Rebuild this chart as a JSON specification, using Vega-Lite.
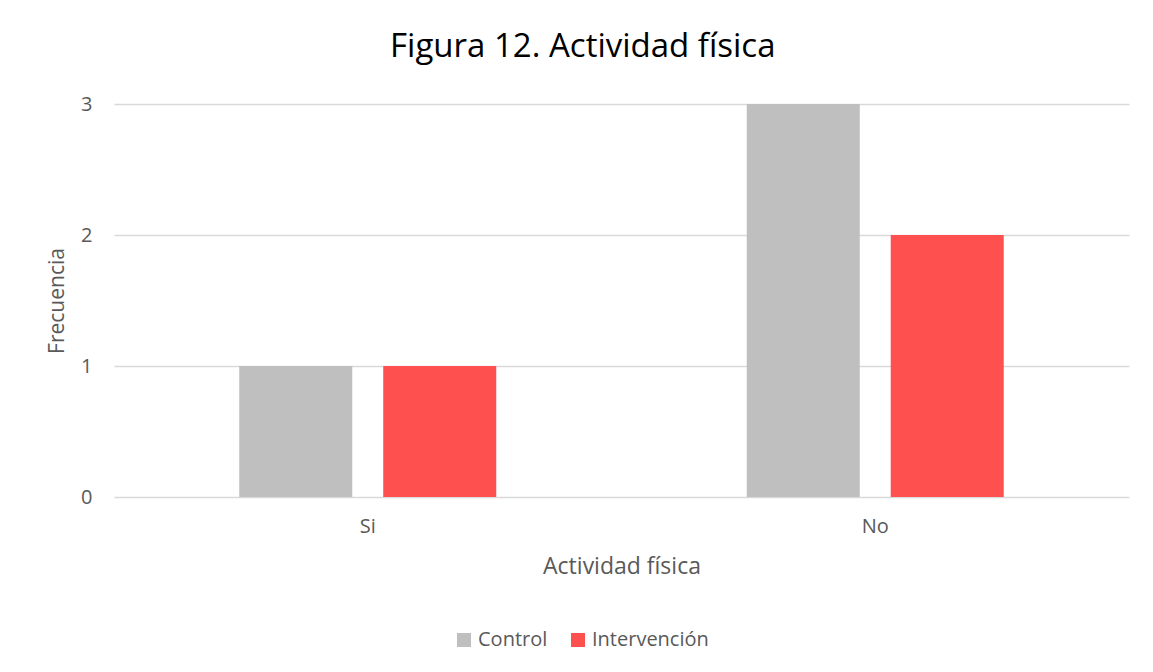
{
  "$schema": "https://vega.github.io/schema/vega-lite/v6.json",
  "autosize": {"type": "none"},
  "width": 1015,
  "height": 393,
  "padding": {"left": 114, "top": 104, "right": 24, "bottom": 175},
  "background": "white",
  "title": {
    "text": "Figura 12. Actividad física",
    "font": "Open Sans",
    "fontSize": 33,
    "fontWeight": "normal",
    "color": "#000000",
    "anchor": "middle",
    "frame": "bounds",
    "dx": -5,
    "offset": 30
  },
  "data": {
    "values": [
      {"actividad": "Si", "grupo": "Control", "frecuencia": 1},
      {"actividad": "Si", "grupo": "Intervención", "frecuencia": 1},
      {"actividad": "No", "grupo": "Control", "frecuencia": 3},
      {"actividad": "No", "grupo": "Intervención", "frecuencia": 2}
    ]
  },
  "mark": {"type": "bar"},
  "encoding": {
    "x": {
      "field": "actividad",
      "type": "nominal",
      "sort": ["Si", "No"],
      "scale": {"paddingInner": 0, "paddingOuter": 0},
      "axis": {
        "title": "Actividad física",
        "labelAngle": 0,
        "ticks": false,
        "domain": false,
        "labelFont": "Open Sans",
        "labelFontSize": 20,
        "labelColor": "#595959",
        "labelPadding": 19,
        "titleFont": "Open Sans",
        "titleFontSize": 23,
        "titleFontWeight": "normal",
        "titleColor": "#595959",
        "titlePadding": 19
      }
    },
    "xOffset": {
      "field": "grupo",
      "type": "nominal",
      "sort": ["Control", "Intervención"],
      "scale": {"paddingInner": 0.215, "paddingOuter": 0.87}
    },
    "y": {
      "field": "frecuencia",
      "type": "quantitative",
      "scale": {"domain": [0, 3], "nice": false},
      "axis": {
        "title": "Frecuencia",
        "values": [0, 1, 2, 3],
        "format": "d",
        "ticks": false,
        "domain": false,
        "grid": true,
        "gridColor": "#D9D9D9",
        "gridWidth": 1.3,
        "labelFont": "Open Sans",
        "labelFontSize": 20,
        "labelColor": "#595959",
        "labelPadding": 22,
        "titleFont": "Open Sans",
        "titleFontSize": 21,
        "titleFontWeight": "normal",
        "titleColor": "#595959",
        "titlePadding": 13
      }
    },
    "color": {
      "field": "grupo",
      "type": "nominal",
      "sort": ["Control", "Intervención"],
      "scale": {"domain": ["Control", "Intervención"], "range": ["#BFBFBF", "#FF5050"]},
      "legend": {
        "title": null,
        "orient": "none",
        "legendX": 340,
        "legendY": 526,
        "direction": "horizontal",
        "symbolType": "square",
        "symbolSize": 196,
        "symbolStrokeWidth": 0,
        "symbolOffset": 0,
        "labelFont": "Open Sans",
        "labelFontSize": 20,
        "labelColor": "#595959",
        "labelOffset": 4,
        "columnPadding": 20
      }
    }
  },
  "config": {
    "view": {"stroke": null}
  }
}
